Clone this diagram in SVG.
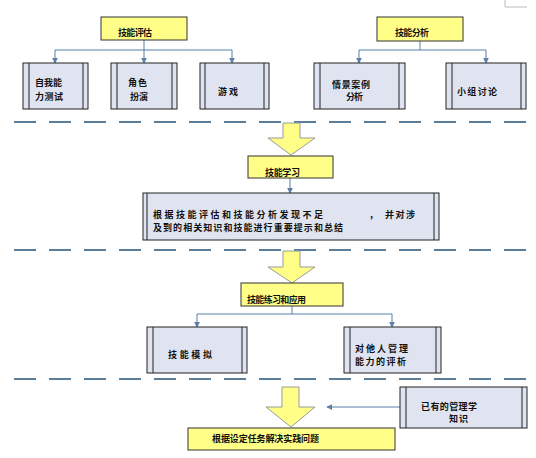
<svg xmlns="http://www.w3.org/2000/svg" width="536" height="458" viewBox="0 0 536 458">
<defs>
<marker id="ah" viewBox="0 0 8 8" refX="7" refY="4" markerWidth="6" markerHeight="6" orient="auto" markerUnits="userSpaceOnUse">
<path d="M0,0 L8,4 L0,8 z" fill="#5b7fa8"/>
</marker>
<style>
.y{fill:#ffff88;stroke:#333;stroke-width:1}
.b{fill:#dfe4f0;stroke:#222;stroke-width:1}
.in{stroke:#222;stroke-width:1}
.t{font-family:"Noto Sans CJK SC","Noto Sans",sans-serif;font-size:9px;font-weight:bold;fill:#111}
.c{fill:none;stroke:#5b7fa8;stroke-width:1}
.d{stroke:#5a7d9a;stroke-width:2;stroke-dasharray:22 13}
.ya{fill:#ffff88;stroke:#999;stroke-width:1}
</style>
</defs>
<rect width="536" height="458" fill="#fff"/>
<polyline points="505,0 505,7 527,7" fill="none" stroke="#bbb" stroke-width="1"/>
<g id="dividers">
<line class="d" x1="14" y1="122" x2="532" y2="122"/>
<line class="d" x1="14" y1="250" x2="532" y2="250"/>
<line class="d" x1="14" y1="379" x2="532" y2="379"/>
</g>
<g id="connectors">
<polyline class="c" points="144,40 144,50"/>
<polyline class="c" points="55,50 232,50"/>
<line class="c" x1="55" y1="50" x2="55" y2="63" marker-end="url(#ah)"/>
<line class="c" x1="144" y1="50" x2="144" y2="63" marker-end="url(#ah)"/>
<line class="c" x1="232" y1="50" x2="232" y2="63" marker-end="url(#ah)"/>
<polyline class="c" points="420,41 420,50"/>
<polyline class="c" points="359,50 486,50"/>
<line class="c" x1="359" y1="50" x2="359" y2="63" marker-end="url(#ah)"/>
<line class="c" x1="486" y1="50" x2="486" y2="63" marker-end="url(#ah)"/>
<line class="c" x1="290" y1="178" x2="290" y2="193" marker-end="url(#ah)"/>
<polyline class="c" points="292,306 292,314"/>
<polyline class="c" points="197,314 392,314"/>
<line class="c" x1="197" y1="314" x2="197" y2="327" marker-end="url(#ah)"/>
<line class="c" x1="392" y1="314" x2="392" y2="327" marker-end="url(#ah)"/>
<line class="c" x1="400" y1="407" x2="327" y2="407" marker-end="url(#ah)"/>
<polygon class="ya" points="283,123 300,123 300,138 315,138 291,155 268,138 283,138"/>
<polygon class="ya" points="283,251 300,251 300,267 315,267 292,283 268,267 283,267"/>
<polygon class="ya" points="282,387 299,387 299,407 315,407 291,427 266,407 282,407"/>
</g>
<g id="n-jnpg">
<rect class="y" x="101" y="17" width="86" height="23"/>
<text class="t" x="118" y="36" textLength="34">技能评估</text>
</g>
<g id="n-jnfx">
<rect class="y" x="377" y="17" width="86" height="24"/>
<text class="t" x="395" y="36" textLength="34">技能分析</text>
</g>
<g id="n-zwnl">
<rect class="b" x="23" y="63" width="65" height="46"/>
<line class="in" x1="29" y1="63" x2="29" y2="109"/><line class="in" x1="83" y1="63" x2="83" y2="109"/>
<text class="t" x="35" y="86" textLength="27">自我能</text>
<text class="t" x="35" y="100" textLength="28">力测试</text>
</g>
<g id="n-jsby">
<rect class="b" x="111" y="63" width="66" height="46"/>
<line class="in" x1="117" y1="63" x2="117" y2="109"/><line class="in" x1="172" y1="63" x2="172" y2="109"/>
<text class="t" x="128" y="86" textLength="19">角色</text>
<text class="t" x="130" y="100" textLength="18">扮演</text>
</g>
<g id="n-yx">
<rect class="b" x="200" y="63" width="69" height="46"/>
<line class="in" x1="205" y1="63" x2="205" y2="109"/><line class="in" x1="264" y1="63" x2="264" y2="109"/>
<text class="t" x="218" y="95" textLength="20">游戏</text>
</g>
<g id="n-qjal">
<rect class="b" x="314" y="63" width="91" height="46"/>
<line class="in" x1="320" y1="63" x2="320" y2="109"/><line class="in" x1="399" y1="63" x2="399" y2="109"/>
<text class="t" x="332" y="88" textLength="38">情景案例</text>
<text class="t" x="346" y="100" textLength="17">分析</text>
</g>
<g id="n-xztl">
<rect class="b" x="446" y="63" width="80" height="46"/>
<line class="in" x1="452" y1="63" x2="452" y2="109"/><line class="in" x1="521" y1="63" x2="521" y2="109"/>
<text class="t" x="457" y="95" textLength="40">小组讨论</text>
</g>
<g id="n-jnxx">
<rect class="y" x="248" y="156" width="85" height="22"/>
<text class="t" x="265" y="176" textLength="35">技能学习</text>
</g>
<g id="n-summary">
<rect class="b" x="143" y="193" width="296" height="47"/>
<line class="in" x1="147" y1="193" x2="147" y2="240"/><line class="in" x1="434" y1="193" x2="434" y2="240"/>
<text class="t" x="153" y="218" textLength="170">根据技能评估和技能分析发现不足</text>
<text class="t" x="369" y="218">，</text>
<text class="t" x="385" y="218" textLength="30">并对涉</text>
<text class="t" x="153" y="231" textLength="190">及到的相关知识和技能进行重要提示和总结</text>
</g>
<g id="n-lxyy">
<rect class="y" x="241" y="283" width="102" height="23"/>
<text class="t" x="247" y="303" textLength="59">技能练习和应用</text>
</g>
<g id="n-jnmn">
<rect class="b" x="147" y="327" width="100" height="46"/>
<line class="in" x1="153" y1="327" x2="153" y2="373"/><line class="in" x1="242" y1="327" x2="242" y2="373"/>
<text class="t" x="168" y="358" textLength="44">技能模拟</text>
</g>
<g id="n-tarpx">
<rect class="b" x="344" y="327" width="97" height="46"/>
<line class="in" x1="350" y1="327" x2="350" y2="373"/><line class="in" x1="436" y1="327" x2="436" y2="373"/>
<text class="t" x="355" y="352" textLength="53">对他人管理</text>
<text class="t" x="355" y="365" textLength="51">能力的评析</text>
</g>
<g id="n-yyzs">
<rect class="b" x="400" y="387" width="127" height="41"/>
<line class="in" x1="406" y1="387" x2="406" y2="428"/><line class="in" x1="522" y1="387" x2="522" y2="428"/>
<text class="t" x="421" y="410" textLength="56">已有的管理学</text>
<text class="t" x="449" y="422" textLength="19">知识</text>
</g>
<g id="n-jjwt">
<rect class="y" x="188" y="428" width="207" height="22"/>
<text class="t" x="212" y="442" textLength="107">根据设定任务解决实践问题</text>
</g>
</svg>
